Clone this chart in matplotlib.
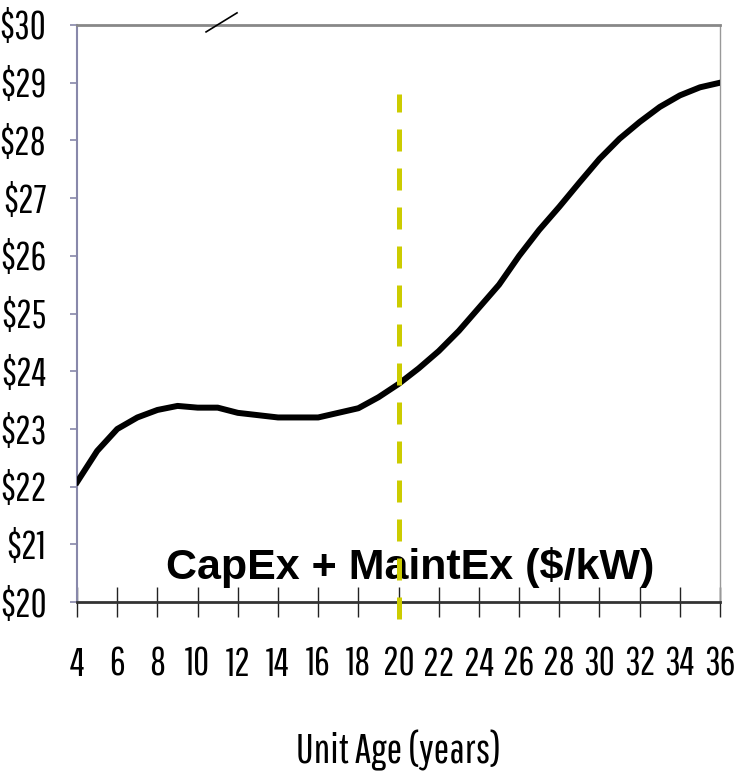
import matplotlib
matplotlib.use("Agg")
import matplotlib.pyplot as plt

# unit age (years) and cost ($/kW)
ages = [4, 5, 6, 7, 8, 9, 10, 11, 12, 13, 14, 15, 16, 17, 18, 19, 20,
        21, 22, 23, 24, 25, 26, 27, 28, 29, 30, 31, 32, 33, 34, 35, 36]
cost = [22.08, 22.62, 23.0, 23.2, 23.33, 23.4, 23.37, 23.37, 23.28, 23.24,
        23.2, 23.2, 23.2, 23.28, 23.36, 23.55, 23.78, 24.05, 24.35, 24.7,
        25.1, 25.5, 26.0, 26.45, 26.85, 27.27, 27.68, 28.03, 28.32, 28.58,
        28.78, 28.92, 29.0]

x_ticks = list(range(4, 37, 2))
y_ticks = list(range(20, 31))
y_labels = ["$%d" % v for v in y_ticks]

marker_age = 20
marker_span = [19.7, 28.8]
break_x = [10.42, 11.96]
break_y = [29.88, 30.21]

narrow = ["Pathway Gothic One", "DejaVu Sans"]

fig = plt.figure(figsize=(7.34, 7.81), dpi=100)
ax = fig.add_axes([0.105, 0.229, 0.876, 0.739])

ax.plot(ages, cost, color="black", lw=4.3, solid_joinstyle="round", zorder=3)
ax.plot([marker_age, marker_age], marker_span, color="#cccc00", lw=3.6,
        linestyle=(0, (4.4, 3.4)), clip_on=False, zorder=4)
ax.plot(break_x, break_y, color="black", lw=1.2, clip_on=False, zorder=5)

ax.text(20.6, 20.6, "CapEx + MaintEx ($/kW)", ha="center", va="center",
        fontsize=31, fontweight="bold", family="Liberation Sans", zorder=3)

ax.set_xlim(4, 36)
ax.set_ylim(20, 30)
ax.set_xticks(x_ticks)
ax.set_xticklabels([str(v) for v in x_ticks], family=narrow, fontsize=28)
ax.set_yticks(y_ticks)
ax.set_yticklabels(y_labels, family=narrow, fontsize=28)
ax.tick_params(axis="x", direction="inout", length=22, width=1,
               color="#222222", pad=21)
ax.tick_params(axis="y", direction="out", length=5, width=1.2,
               color="#8888aa", pad=17)
ax.set_xlabel("Unit Age (years)", family=narrow, fontsize=30, labelpad=34)

ax.spines["left"].set_color("#8888aa")
ax.spines["left"].set_linewidth(1.5)
ax.spines["top"].set_color("#888888")
ax.spines["top"].set_linewidth(2)
ax.spines["right"].set_color("#999999")
ax.spines["right"].set_linewidth(1)
ax.spines["bottom"].set_color("#333333")
ax.spines["bottom"].set_linewidth(2)

fig.savefig("out.png", dpi=100)
